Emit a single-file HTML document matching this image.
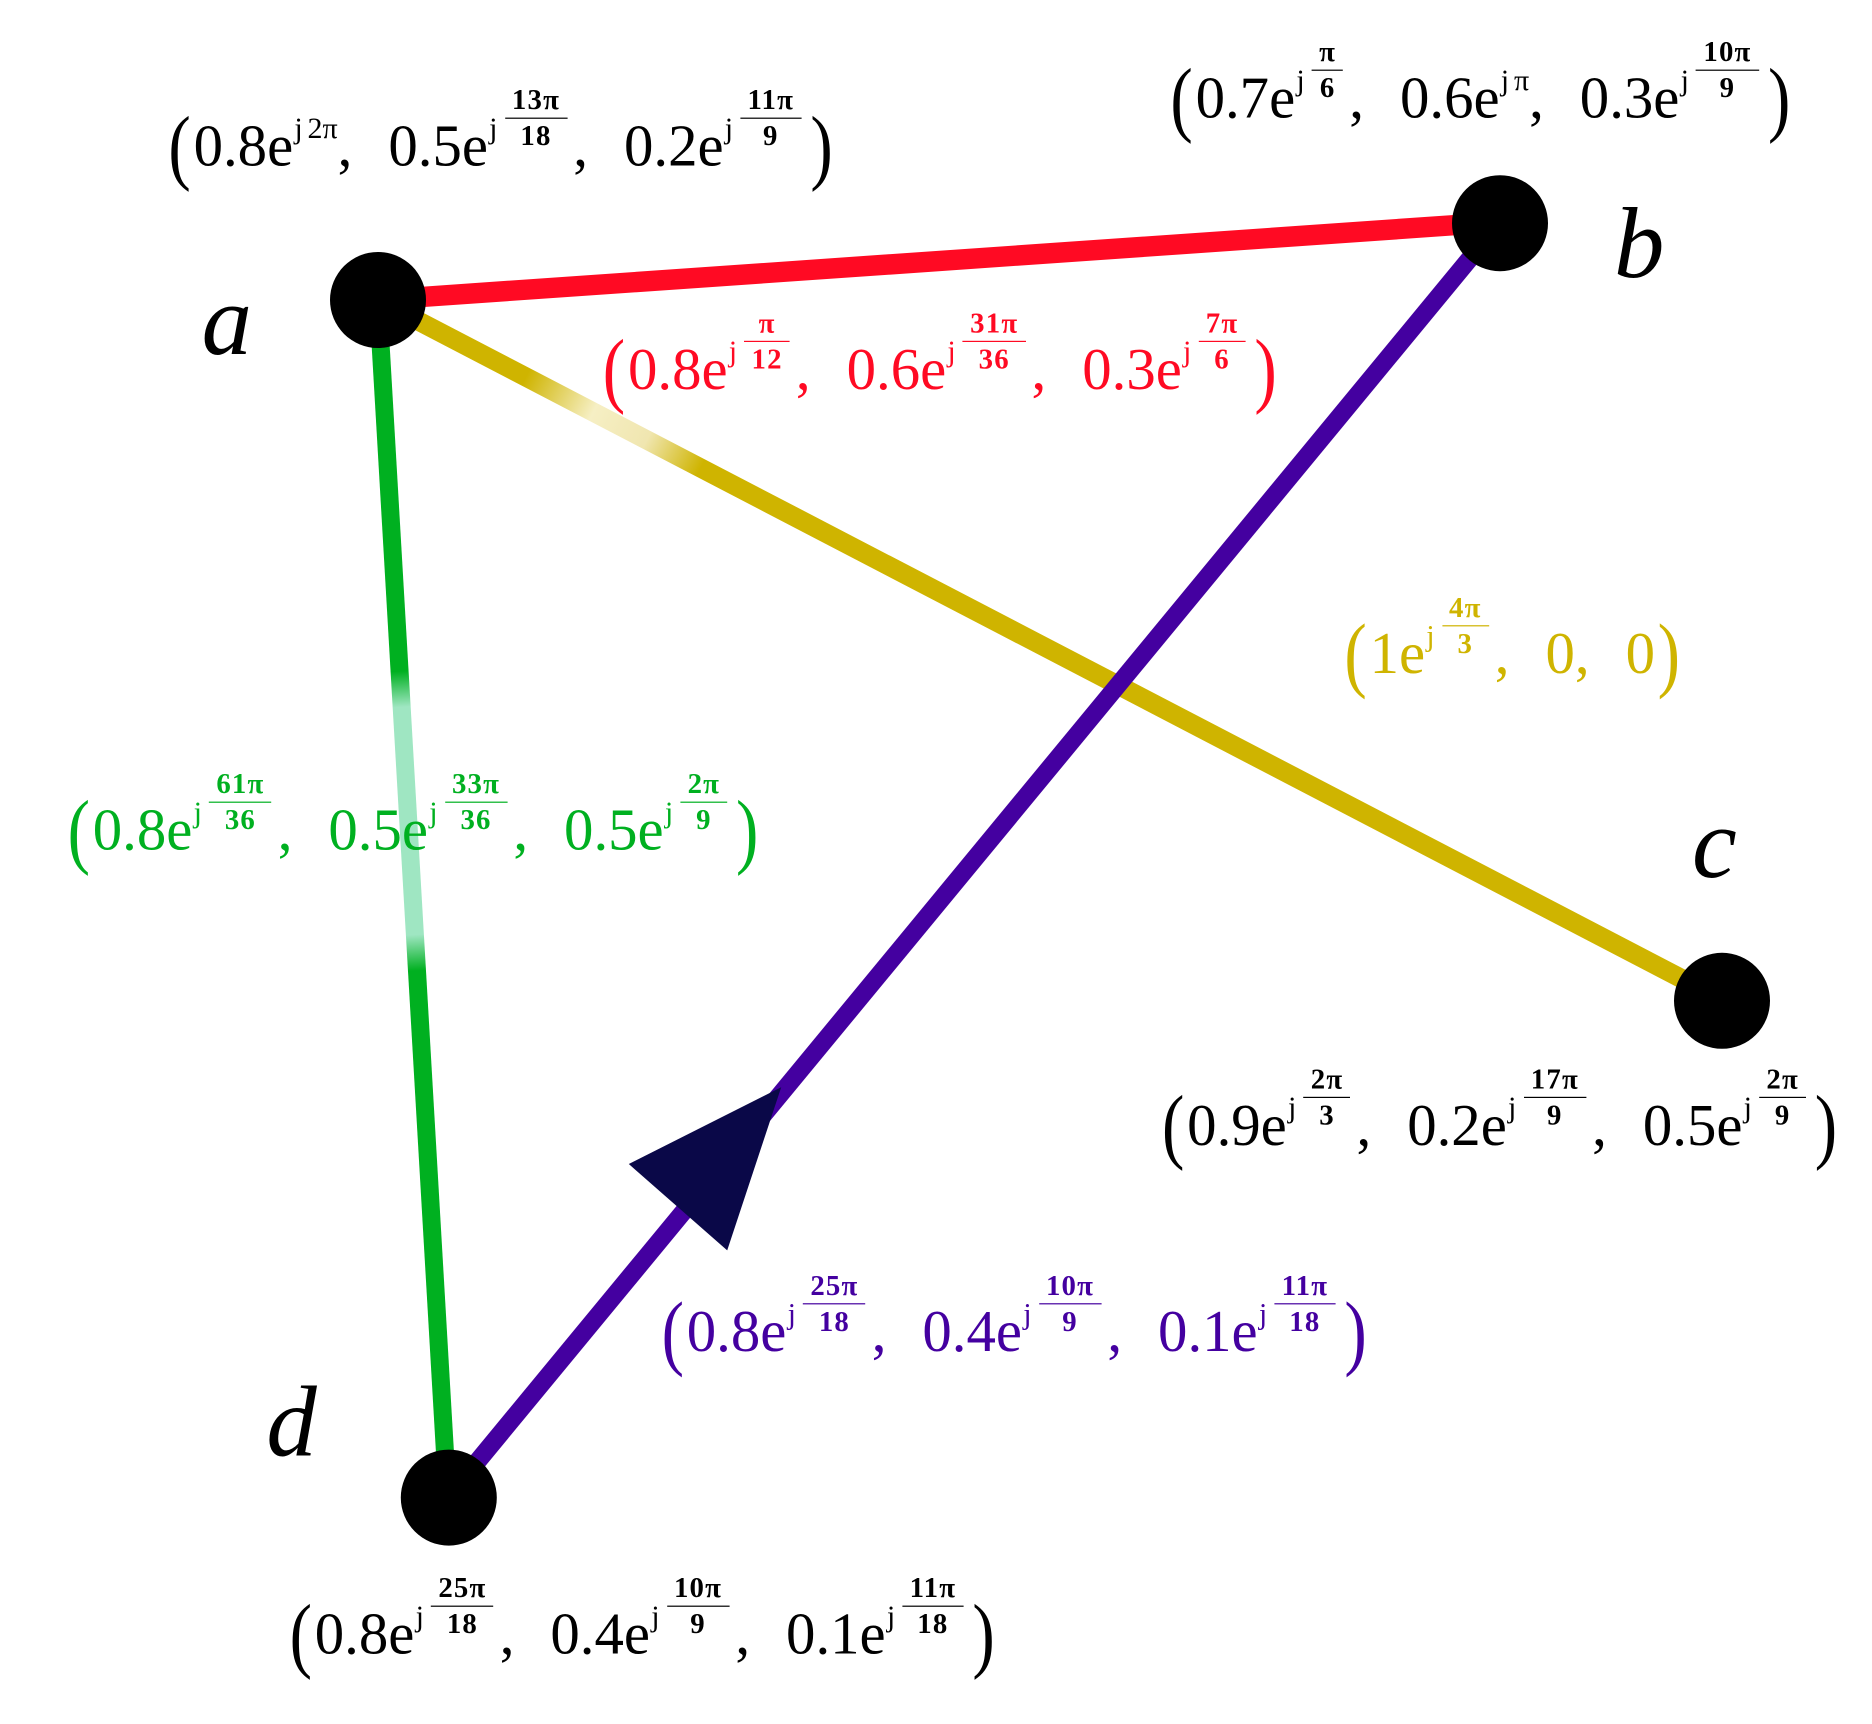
<!DOCTYPE html>
<html><head><meta charset="utf-8"><style>
html,body{margin:0;padding:0;background:#fff;}
#wrap{position:relative;width:1872px;height:1724px;overflow:hidden;background:#fff;}
#s{position:absolute;left:0;top:0;width:1560px;height:1437px;transform:scale(1.2);transform-origin:0 0;}
svg{position:absolute;left:0;top:0;}
.lab{position:absolute;white-space:nowrap;font-family:"Liberation Serif",serif;font-size:49px;line-height:1;}
.p{font-size:70px;display:inline-block;transform:scaleX(0.8);vertical-align:-7px;}
.c{margin-right:30px;}
.j{font-size:25px;vertical-align:23px;margin-left:1px;}
.f{display:inline-block;vertical-align:17px;font-size:24px;text-align:center;line-height:1;margin:0 5px 0 6px;font-weight:bold;letter-spacing:1px;}
.f span{display:block;padding:0 6px;}
.f .n{border-bottom:1.8px solid currentColor;padding-bottom:2px;}
.f .d{padding-top:3px;}
.v{position:absolute;font-family:"Liberation Serif",serif;font-style:italic;font-size:84px;line-height:1;}
</style></head><body><div id="wrap"><div id="s">
<svg width="1560" height="1437" viewBox="0 0 1560 1437">
<defs>
<linearGradient id="gy" gradientUnits="userSpaceOnUse" x1="315" y1="250" x2="1435" y2="833">
<stop offset="0" stop-color="#cfb400"/><stop offset="0.11" stop-color="#cfb400"/><stop offset="0.16" stop-color="#f6efc4"/><stop offset="0.2" stop-color="#f0e6b0"/><stop offset="0.24" stop-color="#cfb400"/><stop offset="1" stop-color="#cfb400"/></linearGradient>
<linearGradient id="gg" gradientUnits="userSpaceOnUse" x1="315" y1="250" x2="373" y2="1248">
<stop offset="0" stop-color="#00b020"/><stop offset="0.31" stop-color="#00b020"/><stop offset="0.34" stop-color="#9fe6c2"/><stop offset="0.53" stop-color="#9fe6c2"/><stop offset="0.56" stop-color="#00b020"/><stop offset="1" stop-color="#00b020"/></linearGradient>
</defs>
<line x1="315" y1="250" x2="1250" y2="185" stroke="#ff0a23" stroke-width="17"/>
<line x1="315" y1="250" x2="1435" y2="833" stroke="url(#gy)" stroke-width="16"/>
<line x1="315" y1="250" x2="373" y2="1248" stroke="url(#gg)" stroke-width="15"/>
<line x1="373" y1="1248" x2="1250" y2="185" stroke="#4400a0" stroke-width="15"/>
<polygon points="524,970 651,906 606,1042" fill="#0a0848"/>
<circle cx="315" cy="250" r="40" fill="#000"/>
<circle cx="1250" cy="186" r="40" fill="#000"/>
<circle cx="1435" cy="834" r="40" fill="#000"/>
<circle cx="374" cy="1248" r="40" fill="#000"/>
</svg>
<div class="v" style="left:168px;top:226px">a</div>
<div class="v" style="left:1345px;top:162px">b</div>
<div class="v" style="left:1410px;top:662px">c</div>
<div class="v" style="left:222px;top:1144px">d</div>

<div class="lab" style="left:138px;top:72px;color:#000"><span class="p">(</span>0.8e<span class="j">j</span><span class="j" style="margin-left:4px">2π</span><span class="c">,</span>0.5e<span class="j">j</span><span class="f"><span class="n">13π</span><span class="d">18</span></span><span class="c">,</span>0.2e<span class="j">j</span><span class="f"><span class="n">11π</span><span class="d">9</span></span><span class="p">)</span></div>

<div class="lab" style="left:973px;top:32px;color:#000"><span class="p">(</span>0.7e<span class="j">j</span><span class="f"><span class="n">π</span><span class="d">6</span></span><span class="c">,</span>0.6e<span class="j">j</span><span class="j" style="margin-left:4px">π</span><span class="c">,</span>0.3e<span class="j">j</span><span class="f"><span class="n">10π</span><span class="d">9</span></span><span class="p">)</span></div>

<div class="lab" style="left:500px;top:258px;color:#ff0a23"><span class="p">(</span>0.8e<span class="j">j</span><span class="f"><span class="n">π</span><span class="d">12</span></span><span class="c">,</span>0.6e<span class="j">j</span><span class="f"><span class="n">31π</span><span class="d">36</span></span><span class="c">,</span>0.3e<span class="j">j</span><span class="f"><span class="n">7π</span><span class="d">6</span></span><span class="p">)</span></div>

<div class="lab" style="left:1118px;top:495px;color:#cfb400"><span class="p">(</span>1e<span class="j">j</span><span class="f"><span class="n">4π</span><span class="d">3</span></span><span class="c">,</span>0<span class="c">,</span>0<span class="p">)</span></div>

<div class="lab" style="left:54px;top:642px;color:#00b020"><span class="p">(</span>0.8e<span class="j">j</span><span class="f"><span class="n">61π</span><span class="d">36</span></span><span class="c">,</span>0.5e<span class="j">j</span><span class="f"><span class="n">33π</span><span class="d">36</span></span><span class="c">,</span>0.5e<span class="j">j</span><span class="f"><span class="n">2π</span><span class="d">9</span></span><span class="p">)</span></div>

<div class="lab" style="left:966px;top:888px;color:#000"><span class="p">(</span>0.9e<span class="j">j</span><span class="f"><span class="n">2π</span><span class="d">3</span></span><span class="c">,</span>0.2e<span class="j">j</span><span class="f"><span class="n">17π</span><span class="d">9</span></span><span class="c">,</span>0.5e<span class="j">j</span><span class="f"><span class="n">2π</span><span class="d">9</span></span><span class="p">)</span></div>

<div class="lab" style="left:549px;top:1060px;color:#4400a0"><span class="p">(</span>0.8e<span class="j">j</span><span class="f"><span class="n">25π</span><span class="d">18</span></span><span class="c">,</span>0.4e<span class="j">j</span><span class="f"><span class="n">10π</span><span class="d">9</span></span><span class="c">,</span>0.1e<span class="j">j</span><span class="f"><span class="n">11π</span><span class="d">18</span></span><span class="p">)</span></div>

<div class="lab" style="left:239px;top:1312px;color:#000"><span class="p">(</span>0.8e<span class="j">j</span><span class="f"><span class="n">25π</span><span class="d">18</span></span><span class="c">,</span>0.4e<span class="j">j</span><span class="f"><span class="n">10π</span><span class="d">9</span></span><span class="c">,</span>0.1e<span class="j">j</span><span class="f"><span class="n">11π</span><span class="d">18</span></span><span class="p">)</span></div>
</div></div></body></html>
